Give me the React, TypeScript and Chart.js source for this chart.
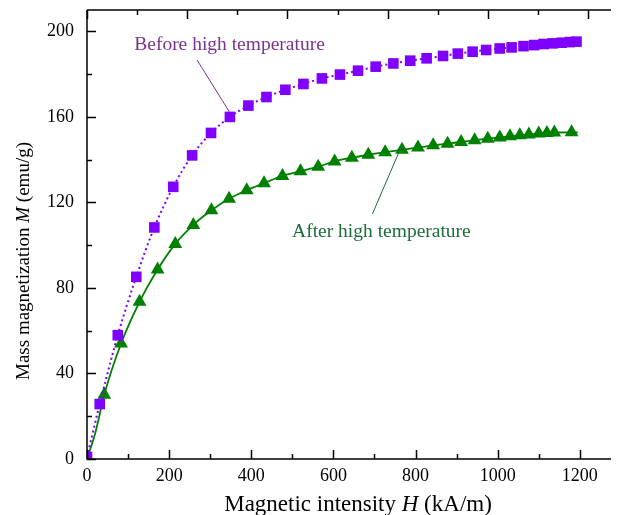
import React, { useEffect, useRef } from "react";
import { Chart, registerables } from "chart.js";

Chart.register(...registerables);

// ---- data ----
const beforeH = [0, 31, 75, 120, 164, 210, 256, 302, 348, 393, 437, 483, 527, 572, 616, 660, 703, 746, 787, 827, 867, 903, 939, 972, 1005, 1034, 1063, 1089, 1112, 1134, 1156, 1176, 1192];
const beforeM = [1, 25.7, 57.9, 85.2, 108.3, 127.3, 142, 152.5, 160, 165.3, 169.3, 172.7, 175.4, 178, 179.8, 181.6, 183.5, 185, 186.3, 187.4, 188.5, 189.6, 190.5, 191.3, 192, 192.5, 193.1, 193.6, 194.1, 194.4, 194.7, 195, 195.2];

const afterH = [0, 20, 42, 83, 128, 172, 215, 259, 303, 346, 389, 431, 476, 520, 563, 603, 645, 685, 726, 767, 806, 843, 878, 911, 944, 976, 1005, 1030, 1054, 1076, 1100, 1120, 1138, 1180, 1195];
const afterM = [0, 12, 30, 54, 73.5, 88.6, 100.6, 109.5, 116.3, 121.7, 125.7, 129, 132.4, 134.6, 136.7, 139.2, 140.9, 142.3, 143.5, 144.6, 145.7, 146.7, 147.5, 148.3, 149.1, 149.8, 150.4, 150.9, 151.4, 151.8, 152.2, 152.5, 152.7, 152.8, 152.8];
const afterMarker = [true, false, true, true, true, true, true, true, true, true, true, true, true, true, true, true, true, true, true, true, true, true, true, true, true, true, true, true, true, true, true, true, true, true, false];

const xTickLabels = [0, 200, 400, 600, 800, 1000, 1200];
const yTickLabels = [0, 40, 80, 120, 160, 200];

const X_MAX = 1276;
const Y_MAX = 210;
const X_MINOR = 100;
const Y_MINOR = 20;
const TOP_MINOR = 122;

const beforeLabel = "Before high temperature";
const afterLabel = "After high temperature";
// annotation anchors in data units
const beforeText = { x: 115, y: 191.1 };
const beforeArrow = [{ x: 268, y: 186.6 }, { x: 346.6, y: 162.4 }];
const afterText = { x: 499.4, y: 103.7 };
const afterArrow = [{ x: 695, y: 114.6 }, { x: 763.7, y: 145.3 }];

const SERIF = "'Liberation Serif', 'DejaVu Serif', serif";
const PURPLE = "#7f00ff";
const GREEN = "#008000";
const PURPLE_TEXT = "#7a3391";
const GREEN_TEXT = "#1b6d3b";

function drawMixed(ctx: CanvasRenderingContext2D, parts: { t: string; italic?: boolean }[], size: number) {
  const fonts = parts.map((p) => `${p.italic ? "italic " : ""}${size}px ${SERIF}`);
  let total = 0;
  const widths = parts.map((p, i) => {
    ctx.font = fonts[i];
    const w = ctx.measureText(p.t).width;
    total += w;
    return w;
  });
  let cx = -total / 2;
  parts.forEach((p, i) => {
    ctx.font = fonts[i];
    ctx.fillText(p.t, cx, 0);
    cx += widths[i];
  });
}

const framePlugin = {
  id: "frame",
  afterDraw(chart: any) {
    const { ctx, chartArea: a, scales } = chart;
    const x = scales.x;
    const y = scales.y;
    ctx.save();
    ctx.strokeStyle = "#000";
    ctx.lineWidth = 1.5;
    ctx.beginPath();
    ctx.moveTo(a.left, a.top);
    ctx.lineTo(a.left, a.bottom);
    ctx.lineTo(a.right, a.bottom);
    ctx.moveTo(a.left, a.top);
    ctx.lineTo(a.right, a.top);
    ctx.stroke();
    ctx.beginPath();
    for (let i = 0; i * X_MINOR <= X_MAX; i++) {
      const px = Math.round(x.getPixelForValue(i * X_MINOR)) + 0.5;
      const len = i % 2 === 0 ? 9 : 5;
      ctx.moveTo(px, a.bottom);
      ctx.lineTo(px, a.bottom - len);
    }
    for (let i = 0; i * TOP_MINOR <= X_MAX; i++) {
      const px = Math.round(x.getPixelForValue(i * TOP_MINOR)) + 0.5;
      const len = i % 2 === 0 ? 9 : 5;
      ctx.moveTo(px, a.top);
      ctx.lineTo(px, a.top + len);
    }
    for (let i = 0; i * Y_MINOR <= Y_MAX; i++) {
      const py = Math.round(y.getPixelForValue(i * Y_MINOR)) + 0.5;
      const len = i % 2 === 0 ? 9 : 5;
      ctx.moveTo(a.left, py);
      ctx.lineTo(a.left + len, py);
    }
    ctx.stroke();

    // annotations
    ctx.lineWidth = 1;
    ctx.strokeStyle = PURPLE_TEXT;
    ctx.beginPath();
    ctx.moveTo(x.getPixelForValue(beforeArrow[0].x), y.getPixelForValue(beforeArrow[0].y));
    ctx.lineTo(x.getPixelForValue(beforeArrow[1].x), y.getPixelForValue(beforeArrow[1].y));
    ctx.stroke();
    ctx.strokeStyle = GREEN_TEXT;
    ctx.beginPath();
    ctx.moveTo(x.getPixelForValue(afterArrow[0].x), y.getPixelForValue(afterArrow[0].y));
    ctx.lineTo(x.getPixelForValue(afterArrow[1].x), y.getPixelForValue(afterArrow[1].y));
    ctx.stroke();

    ctx.textBaseline = "alphabetic";
    ctx.textAlign = "left";
    ctx.font = `19.5px ${SERIF}`;
    ctx.fillStyle = PURPLE_TEXT;
    ctx.fillText(beforeLabel, x.getPixelForValue(beforeText.x), y.getPixelForValue(beforeText.y));
    ctx.fillStyle = GREEN_TEXT;
    ctx.fillText(afterLabel, x.getPixelForValue(afterText.x), y.getPixelForValue(afterText.y));

    // axis titles
    ctx.fillStyle = "#000";
    ctx.save();
    ctx.translate(358, 511);
    drawMixed(ctx, [{ t: "Magnetic intensity " }, { t: "H", italic: true }, { t: " (kA/m)" }], 23);
    ctx.restore();
    ctx.save();
    ctx.translate(29, 261);
    ctx.rotate(-Math.PI / 2);
    drawMixed(ctx, [{ t: "Mass magnetization " }, { t: "M", italic: true }, { t: " (emu/g)" }], 19);
    ctx.restore();
    ctx.restore();
  },
};

function zeroPad(s: any) {
  s.paddingLeft = 0;
  s.paddingRight = 0;
  s.paddingTop = 0;
  s.paddingBottom = 0;
}

export default function App() {
  const ref = useRef<HTMLCanvasElement | null>(null);
  useEffect(() => {
    if (!ref.current) return;
    const chart = new Chart(ref.current, {
      type: "line",
      data: {
        datasets: [
          {
            label: beforeLabel,
            data: beforeH.map((h, i) => ({ x: h, y: beforeM[i] })),
            borderColor: PURPLE,
            backgroundColor: PURPLE,
            borderWidth: 2,
            borderDash: [2, 3],
            pointStyle: "rect",
            pointRadius: 7.5,
            pointBorderWidth: 0,
            cubicInterpolationMode: "monotone",
          },
          {
            label: afterLabel,
            data: afterH.map((h, i) => ({ x: h, y: afterM[i] })),
            borderColor: GREEN,
            backgroundColor: GREEN,
            borderWidth: 1.8,
            pointStyle: "triangle",
            pointRadius: afterMarker.map((m) => (m ? 8 : 0)),
            pointBorderWidth: 0,
            cubicInterpolationMode: "monotone",
          },
        ],
      },
      options: {
        animation: false,
        responsive: false,
        devicePixelRatio: 1,
        layout: { padding: { top: 10, right: 0, left: 0, bottom: 0 } },
        plugins: { legend: { display: false }, tooltip: { enabled: false } },
        scales: {
          x: {
            type: "linear",
            min: 0,
            max: X_MAX,
            grid: { display: false, drawTicks: false },
            border: { display: false },
            afterFit: (s: any) => {
              s.height = 56;
              zeroPad(s);
            },
            afterBuildTicks: (s: any) => {
              s.ticks = xTickLabels.map((v) => ({ value: v }));
            },
            ticks: {
              padding: 6,
              color: "#000",
              font: { family: SERIF, size: 18 },
              maxRotation: 0,
              autoSkip: false,
              callback: (v: any) => String(v),
            },
          },
          y: {
            type: "linear",
            min: 0,
            max: Y_MAX,
            grid: { display: false, drawTicks: false },
            border: { display: false },
            afterFit: (s: any) => {
              s.width = 87;
              zeroPad(s);
            },
            afterBuildTicks: (s: any) => {
              s.ticks = yTickLabels.map((v) => ({ value: v }));
            },
            ticks: {
              padding: 13,
              color: "#000",
              font: { family: SERIF, size: 18 },
              autoSkip: false,
              callback: (v: any) => String(v),
            },
          },
        },
      },
      plugins: [framePlugin],
    } as any);
    return () => chart.destroy();
  }, []);
  return (
    <div style={{ position: "fixed", left: 0, top: 0, width: 619, height: 515, overflow: "hidden", background: "#fff" }}>
      <canvas ref={ref} width={619} height={515} style={{ display: "block" }} />
    </div>
  );
}
